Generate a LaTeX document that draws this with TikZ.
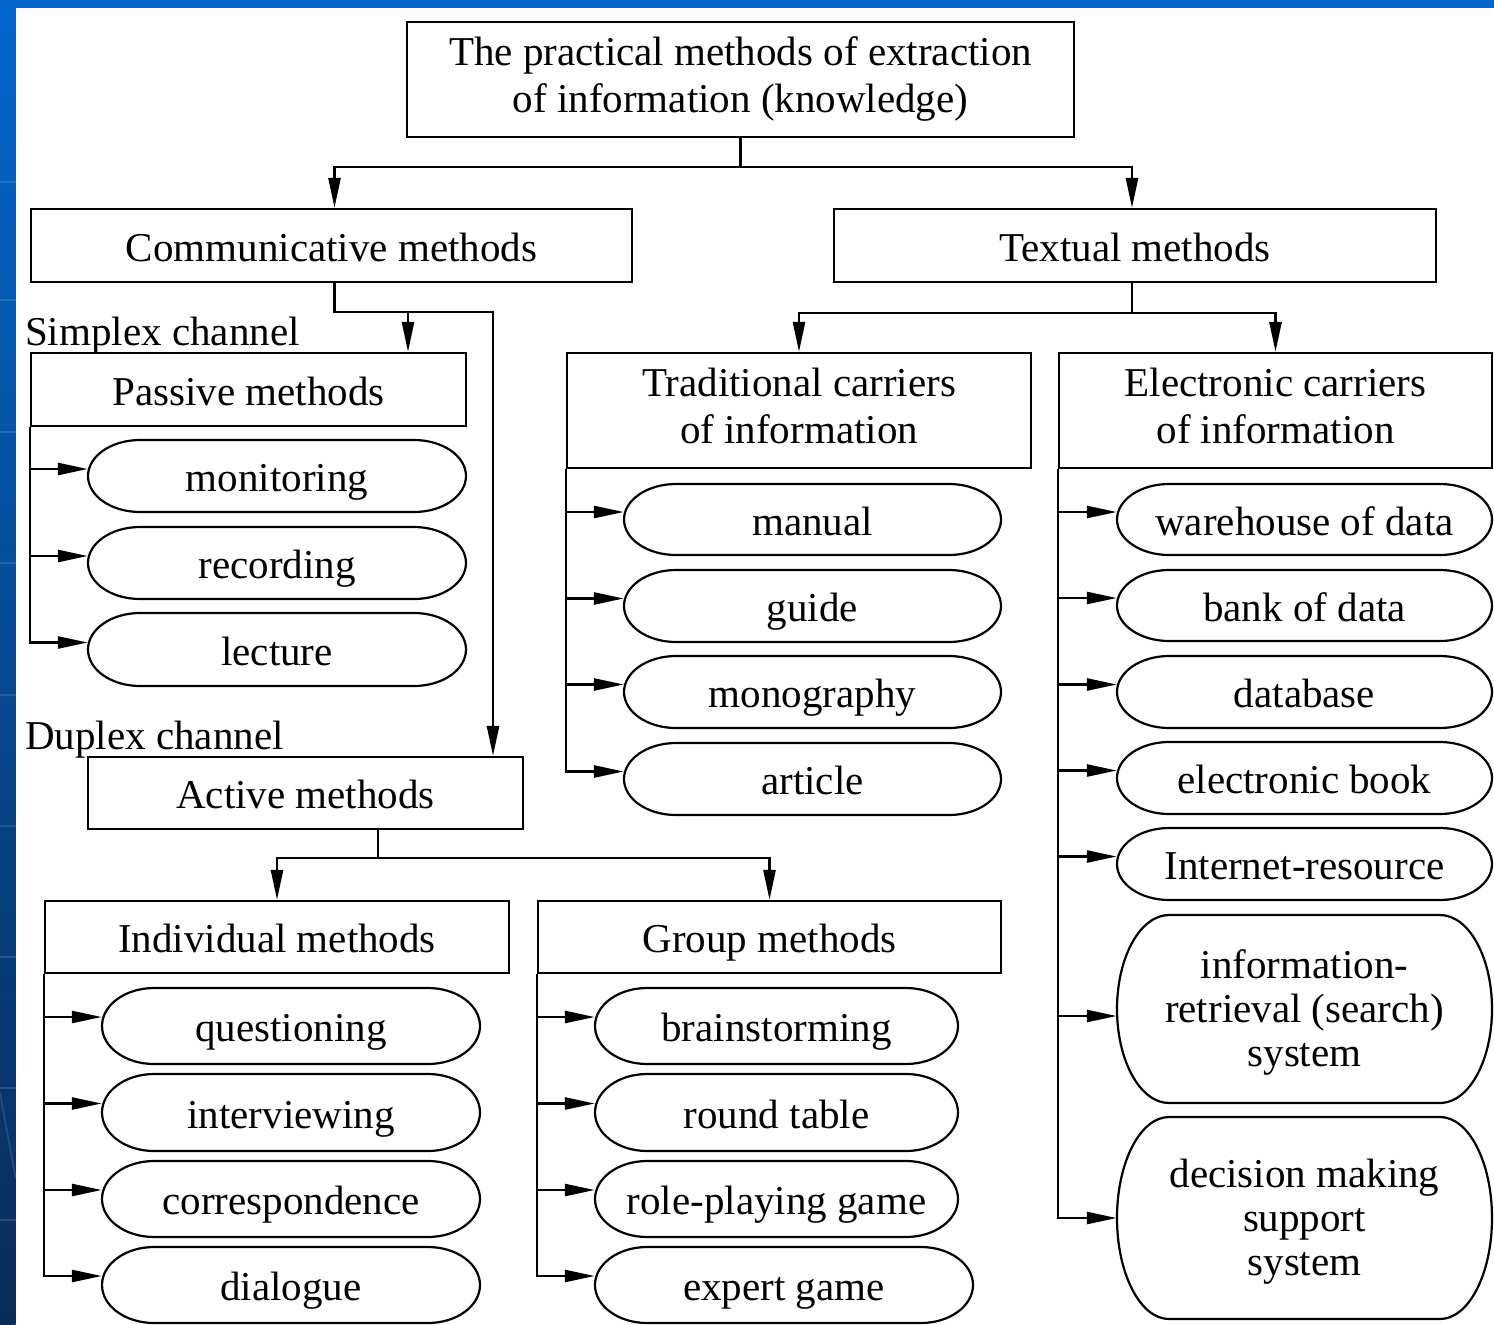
\documentclass[tikz,border=0pt]{standalone}
\usepackage{fontspec}
\setmainfont{Liberation Serif}
\usetikzlibrary{arrows.meta,calc}
\definecolor{bandtop}{HTML}{0467CC}
\definecolor{bandmid}{HTML}{0850A2}
\definecolor{bandbot}{HTML}{0A2C58}
\newcommand\tstr{\rule{0pt}{28pt}}
\newcommand\bstr{\rule[-9pt]{0pt}{9pt}}
\tikzset{
  outl/.style={line width=2.2pt},
  boxst/.style={draw, outl, inner sep=0pt, font=\fontsize{41}{47}\selectfont, text height=31.5pt, text depth=0pt},
  mboxst/.style={draw, outl, inner sep=0pt, font=\fontsize{41}{47}\selectfont, align=center},
  stadtxt/.style={inner sep=0pt, font=\fontsize{41}{47}\selectfont, text height=31.5pt, text depth=0pt},
  mstadtxt/.style={inner sep=0pt, font=\fontsize{41}{44}\selectfont, align=center, yshift=-3.5pt},
  lbl/.style={inner sep=0pt, font=\fontsize{41}{47}\selectfont, anchor=base west},
  conn/.style={line width=2.6pt},
  arr/.style={conn, -{Triangle[length=30pt,width=12pt]}},
}
% box: [style]{name}{x1}{y1}{x2}{y2}{text}  (image pixel coordinates)
\newcommand\mybox[7][boxst]{%
  \node[#1, minimum width={(#5-#3)*1pt}, minimum height={(#6-#4)*1pt}] (#2) at ({(#3+#5)/2},{-(#4+#6)/2}) {#7};}
% stadium: [style]{name}{x1}{y1}{x2}{y2}{text}
\newcommand\mystad[7][stadtxt]{%
  \node[#1, minimum width={(#5-#3)*1pt}, minimum height={(#6-#4)*1pt}] (#2) at ({(#3+#5)/2},{-(#4+#6)/2}) {#7};
  \draw[outl] (#3+52,-#4) -- (#5-52,-#4)
    arc[start angle=90,end angle=-90,x radius=52pt,y radius={(#6-#4)/2*1pt}]
    -- (#3+52,-#6)
    arc[start angle=270,end angle=90,x radius=52pt,y radius={(#6-#4)/2*1pt}] -- cycle;}
\begin{document}
\begin{tikzpicture}[x=1pt,y=1pt]
\useasboundingbox (0,0) rectangle (1494,-1325);
% background
\fill[white] (0,0) rectangle (1494,-1325);
\shade[top color=bandtop, middle color=bandmid, bottom color=bandbot] (0,0) rectangle (15.7,-1325);
\fill[bandtop] (0,0) rectangle (1494,-7.5);
\foreach \yy in {182,300,432,563,695,826,957,1088,1220}
  \draw[white, opacity=0.13, line width=1.5pt] (0,-\yy) -- (15.7,-\yy);
\draw[white, opacity=0.13, line width=1.5pt] (0,-1093) -- (15.7,-1178);

% top level
\mybox[mboxst]{top}{407}{22}{1074}{137}{\tstr The practical methods of extraction\\of information (knowledge)\bstr}
\mybox{comm}{31}{209}{632}{282}{Communicative methods}
\mybox{textual}{834}{209}{1436}{282}{Textual methods}

% communicative branch
\node[lbl] (simplex) at (25,-345) {Simplex channel};
\mybox{pass}{31}{353}{466}{426}{Passive methods}
\mystad{mon}{88}{440}{466}{512}{monitoring}
\mystad{rec}{88}{527}{466}{599}{recording}
\mystad{lec}{88}{613}{466}{686}{lecture}

\node[lbl] (duplex) at (25,-749) {Duplex channel};
\mybox{act}{88}{757}{523}{829}{Active methods}
\mybox{indiv}{45}{901}{509}{973}{Individual methods}
\mybox{group}{538}{901}{1001}{973}{Group methods}
\mystad{q}{102}{988}{480}{1064}{questioning}
\mystad{int}{102}{1074}{480}{1151}{interviewing}
\mystad{corr}{102}{1161}{480}{1237}{correspondence}
\mystad{dia}{102}{1247}{480}{1323}{dialogue}
\mystad{brain}{595}{988}{958}{1064}{brainstorming}
\mystad{round}{595}{1074}{958}{1151}{round table}
\mystad{role}{595}{1161}{958}{1237}{role-playing game}
\mystad{expert}{595}{1247}{973}{1323}{expert game}

% textual branch
\mybox[mboxst]{trad}{567}{353}{1031}{468}{\tstr Traditional carriers\\of information\bstr}
\mybox[mboxst]{elec}{1059}{353}{1492}{468}{\tstr Electronic carriers\\of information\bstr}
\mystad{manual}{624}{484}{1001}{555}{manual}
\mystad{guide}{624}{570}{1001}{642}{guide}
\mystad{mono}{624}{656}{1001}{728}{monography}
\mystad{article}{624}{743}{1001}{815}{article}
\mystad{wh}{1117}{484}{1492}{555}{warehouse of data}
\mystad{bank}{1117}{570}{1492}{641}{bank of data}
\mystad{db}{1117}{656}{1492}{728}{database}
\mystad{ebook}{1117}{742}{1492}{814}{electronic book}
\mystad{inet}{1117}{828}{1492}{900}{Internet-resource}
\mystad[mstadtxt]{info}{1117}{915}{1492}{1103}{\tstr information-\\retrieval (search)\\system\bstr}
\mystad[mstadtxt]{dec}{1117}{1117}{1492}{1319}{\tstr decision making\\support\\system\bstr}

% connectors
\draw[arr] (top.south) -- ++(0,-29) -| ([xshift=3pt]comm.north);
\draw[arr] (top.south) -- ++(0,-29) -| ([xshift=-3pt]textual.north);
\draw[arr] ([xshift=3pt]comm.south) -- ++(0,-29) -| ([xshift=159.5pt]pass.north);
\draw[arr] ([xshift=3pt]comm.south) -- ++(0,-29) -| ([xshift=187.5pt]act.north);
\draw[arr] ([xshift=-3pt]textual.south) -- ++(0,-30) -| (trad.north);
\draw[arr] ([xshift=-3pt]textual.south) -- ++(0,-30) -| (elec.north);
\draw[arr] ([xshift=72.5pt]act.south) -- ++(0,-28) -| (indiv.north);
\draw[arr] ([xshift=72.5pt]act.south) -- ++(0,-28) -| (group.north);

\foreach \n in {mon,rec,lec}
  \draw[arr] (pass.south west) |- ([yshift=7pt]\n.west);
\foreach \n in {manual,guide,mono,article}
  \draw[arr] (trad.south west) |- ([yshift=7.5pt]\n.west);
\foreach \n in {wh,bank,db,ebook,inet}
  \draw[arr] (elec.south west) |- ([yshift=7.5pt]\n.west);
\draw[arr] (elec.south west) |- ([yshift=-3.5pt]info.west);
\draw[arr] (elec.south west) |- ([yshift=3.5pt]dec.west);
\foreach \n in {q,int,corr,dia}
  \draw[arr] (indiv.south west) |- ([yshift=9pt]\n.west);
\foreach \n in {brain,round,role,expert}
  \draw[arr] (group.south west) |- ([yshift=9pt]\n.west);
\end{tikzpicture}
\end{document}
